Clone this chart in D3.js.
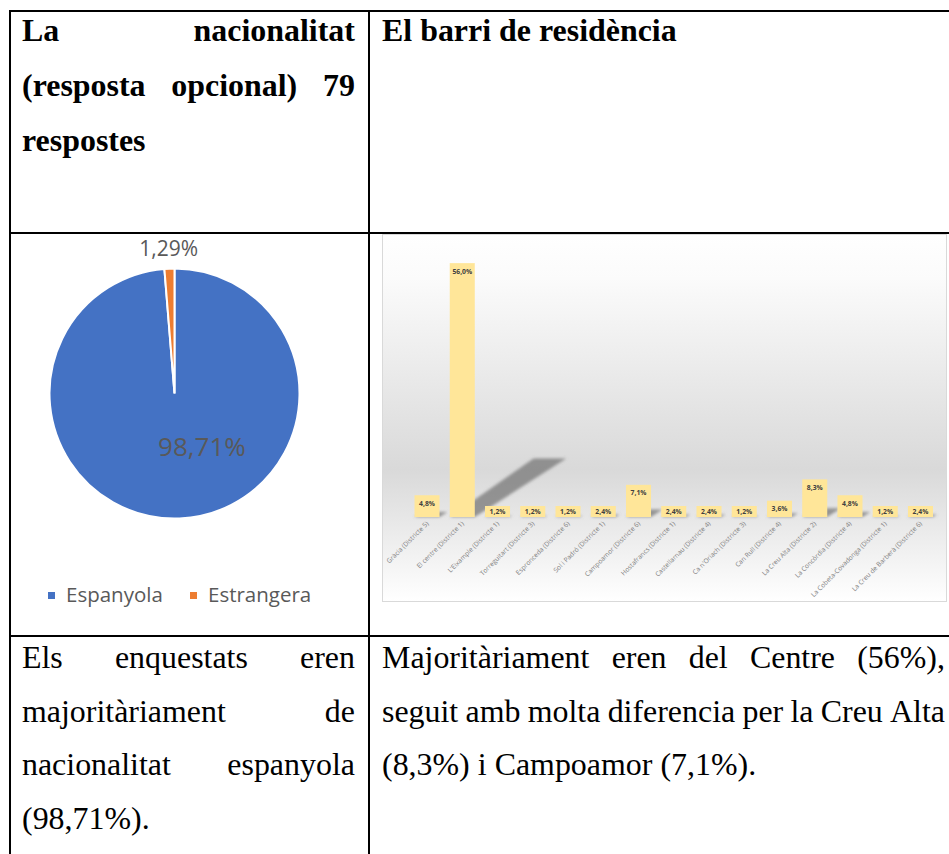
<!DOCTYPE html>
<html>
<head>
<meta charset="utf-8">
<script src="https://cdn.jsdelivr.net/npm/d3@7"></script>
<style>
  body { margin: 0; background: #fff; }
</style>
</head>
<body>
<svg width="949" height="854"></svg>
<script>
// pie data
const nationality = ["Espanyola", "Estrangera"];
const nationalityPct = [98.71, 1.29];
const pieColors = ["#4472C4", "#ED7D31"];

// bar data
const barris = ["Gràcia (Districte 5)", "El centre (Districte 1)", "L'Eixample (Districte 1)",
  "Torreguitart (Districte 3)", "Espronceda (Districte 6)", "Sol i Padró (Districte 1)",
  "Campoamor (Districte 6)", "Hostafrancs (Districte 1)", "Castellarnau (Districte 4)",
  "Ca n'Oriach (Districte 3)", "Can Rull (Districte 4)", "La Creu Alta (Districte 2)",
  "La Concòrdia (Districte 4)", "La Cobeta-Covadonga (Districte 1)", "La Creu de Barberà (Districte 6)"];
const barriPct = [4.8, 56.0, 1.2, 1.2, 1.2, 2.4, 7.1, 2.4, 2.4, 1.2, 3.6, 8.3, 4.8, 1.2, 2.4];

// table text
const headLeft = [
  {text: "La nacionalitat", justify: true},
  {text: "(resposta opcional) 79", justify: true},
  {text: "respostes", justify: false}
];
const headRight = [{text: "El barri de residència", justify: false}];
const bodyLeft = [
  {text: "Els enquestats eren", justify: true},
  {text: "majoritàriament de", justify: true},
  {text: "nacionalitat espanyola", justify: true},
  {text: "(98,71%).", justify: false}
];
const bodyRight = [
  {text: "Majoritàriament eren del Centre (56%),", justify: true},
  {text: "seguit amb molta diferencia per la Creu Alta", justify: true},
  {text: "(8,3%) i Campoamor (7,1%).", justify: false}
];

const svg = d3.select("svg");
const locale = d3.formatLocale({decimal: ",", thousands: ".", grouping: [3], currency: ["", "€"]});
const fmt1 = locale.format(".1f");
const fmt2 = locale.format(".2f");

const defs = svg.append("defs");
const grad = defs.append("linearGradient").attr("id", "bg").attr("x1", 0).attr("x2", 0).attr("y1", 0).attr("y2", 1);
grad.append("stop").attr("offset", "0%").attr("stop-color", "#ffffff");
grad.append("stop").attr("offset", "12%").attr("stop-color", "#fbfbfb");
grad.append("stop").attr("offset", "64%").attr("stop-color", "#d9d9d9");
grad.append("stop").attr("offset", "100%").attr("stop-color", "#ffffff");
defs.append("filter").attr("id", "blur").attr("x", "-50%").attr("y", "-50%").attr("width", "200%").attr("height", "200%")
  .append("feGaussianBlur").attr("stdDeviation", 1.8);

// ---- table text ----
const SX = 1.03;   // the document text is a touch stretched sideways
const FS = 31;

function para(lines, x0, x1, y0, dy, bold) {
  const g = svg.append("g")
      .attr("font-family", "'Liberation Serif', 'Times New Roman', serif")
      .attr("font-size", FS)
      .attr("font-weight", bold ? "bold" : "normal")
      .attr("fill", "#000");
  lines.forEach((ln, i) => {
    const y = y0 + i * dy;
    const words = ln.text.split(" ");
    const nodes = words.map(w => g.append("text").text(w));
    const widths = nodes.map(n => n.node().getComputedTextLength() * SX);
    let gap = 0.25 * FS * SX;
    if (ln.justify && words.length > 1) gap = (x1 - x0 - d3.sum(widths)) / (words.length - 1);
    let x = x0;
    nodes.forEach((n, k) => {
      n.attr("transform", `translate(${x},${y}) scale(${SX},1)`);
      x += widths[k] + gap;
    });
  });
}

para(headLeft, 22, 355, 41, 55, true);
para(headRight, 382, 940, 41, 55, true);
para(bodyLeft, 22, 355, 668, 53.5, false);
para(bodyRight, 382, 945, 668, 53.5, false);

// ---- table borders ----
const borders = svg.append("g").attr("stroke", "#000").attr("stroke-width", 2);
borders.append("line").attr("x1", 9).attr("x2", 949).attr("y1", 11).attr("y2", 11);
borders.append("line").attr("x1", 10).attr("x2", 10).attr("y1", 10).attr("y2", 854);
borders.append("line").attr("x1", 369).attr("x2", 369).attr("y1", 10).attr("y2", 854);
borders.append("line").attr("x1", 9).attr("x2", 949).attr("y1", 233).attr("y2", 233);
borders.append("line").attr("x1", 9).attr("x2", 949).attr("y1", 636).attr("y2", 636);

// ---- pie ----
const cx = 174.5, cy = 393.5, r = 125;
const pie = d3.pie().sort(null).value(d => d.v);
const pieData = pie(nationality.map((n, i) => ({n, v: nationalityPct[i]})));
const arc = d3.arc().innerRadius(0).outerRadius(r);
const pg = svg.append("g").attr("transform", `translate(${cx},${cy})`);
pg.selectAll("path").data(pieData).enter().append("path")
  .attr("d", arc)
  .attr("fill", (d, i) => pieColors[i])
  .attr("stroke", "#fff")
  .attr("stroke-width", 2);

// labels: small slice outside, big one inside (best fit)
const outArc = d3.arc().innerRadius(r + 20).outerRadius(r + 20);
const inArc = d3.arc().innerRadius(r * 0.48).outerRadius(r * 0.48);
pg.selectAll("text.lbl").data(pieData).enter().append("text")
  .attr("class", "lbl")
  .attr("transform", (d, i) => {
    if (i === 1) return `translate(${outArc.centroid(d)})`;
    const mid = d.startAngle + (d.endAngle - d.startAngle) * 0.43;
    return `translate(${inArc.centroid({startAngle: mid, endAngle: mid})})`;
  })
  .attr("text-anchor", "middle")
  .attr("dy", "0.35em")
  .attr("font-family", "'Open Sans', sans-serif")
  .attr("font-size", (d, i) => i === 0 ? 26 : 21)
  .attr("fill", "#595959")
  .text(d => fmt2(d.data.v) + "%");

// legend
const lg = svg.append("g").attr("font-family", "'Open Sans', sans-serif").attr("font-size", 20.5).attr("fill", "#595959");
const legX = [48, 190];
nationality.forEach((n, i) => {
  lg.append("rect").attr("x", legX[i]).attr("y", 592).attr("width", 7).attr("height", 7).attr("fill", pieColors[i]);
  lg.append("text").attr("x", legX[i] + 18).attr("y", 602).text(n);
});

// ---- bar chart ----
svg.append("rect").attr("x", 382.5).attr("y", 234.5).attr("width", 564).attr("height", 367)
  .attr("fill", "url(#bg)").attr("stroke", "#d9d9d9").attr("stroke-width", 1);

const x = d3.scaleBand().domain(barris).range([409.4, 938.1]).paddingInner(0.29).paddingOuter(0.145);
const y = d3.scaleLinear().domain([0, 60]).range([517, 245]);
const base = y(0);
const bars = barris.map((b, i) => ({b, v: barriPct[i]}));

// perspective shadows
svg.append("g").attr("filter", "url(#blur)").selectAll("polygon").data(bars).enter().append("polygon")
  .attr("points", d => {
    const x0 = x(d.b), x1 = x0 + x.bandwidth(), h = base - y(d.v);
    const sy = 0.23 * h;
    return [[x0, base], [x1, base], [x1 + 0.36 * h, base - sy], [x0 + 0.33 * h, base - sy]].join(" ");
  })
  .attr("fill", "#6f6f6f")
  .attr("opacity", 0.7);

svg.append("g").selectAll("rect").data(bars).enter().append("rect")
  .attr("x", d => x(d.b))
  .attr("y", d => Math.min(y(d.v), base - 11))
  .attr("width", x.bandwidth())
  .attr("height", d => base - Math.min(y(d.v), base - 11))
  .attr("fill", "#FFE699");

svg.append("g").selectAll("text").data(bars).enter().append("text")
  .attr("x", d => x(d.b) + x.bandwidth() / 2)
  .attr("y", d => Math.min(y(d.v) + 10.5, base - 3.5))
  .attr("text-anchor", "middle")
  .attr("font-family", "'Open Sans', sans-serif")
  .attr("font-weight", "bold")
  .attr("font-size", 6.8)
  .attr("fill", "#404040")
  .text(d => fmt1(d.v) + "%");

svg.append("g").selectAll("text").data(bars).enter().append("text")
  .attr("transform", d => `translate(${x(d.b) + x.bandwidth() / 2 + 2},${base + 7}) rotate(-45)`)
  .attr("text-anchor", "end")
  .attr("font-family", "'Open Sans', sans-serif")
  .attr("font-size", 6.6)
  .attr("fill", "#7f7f7f")
  .text(d => d.b);
</script>
</body>
</html>
